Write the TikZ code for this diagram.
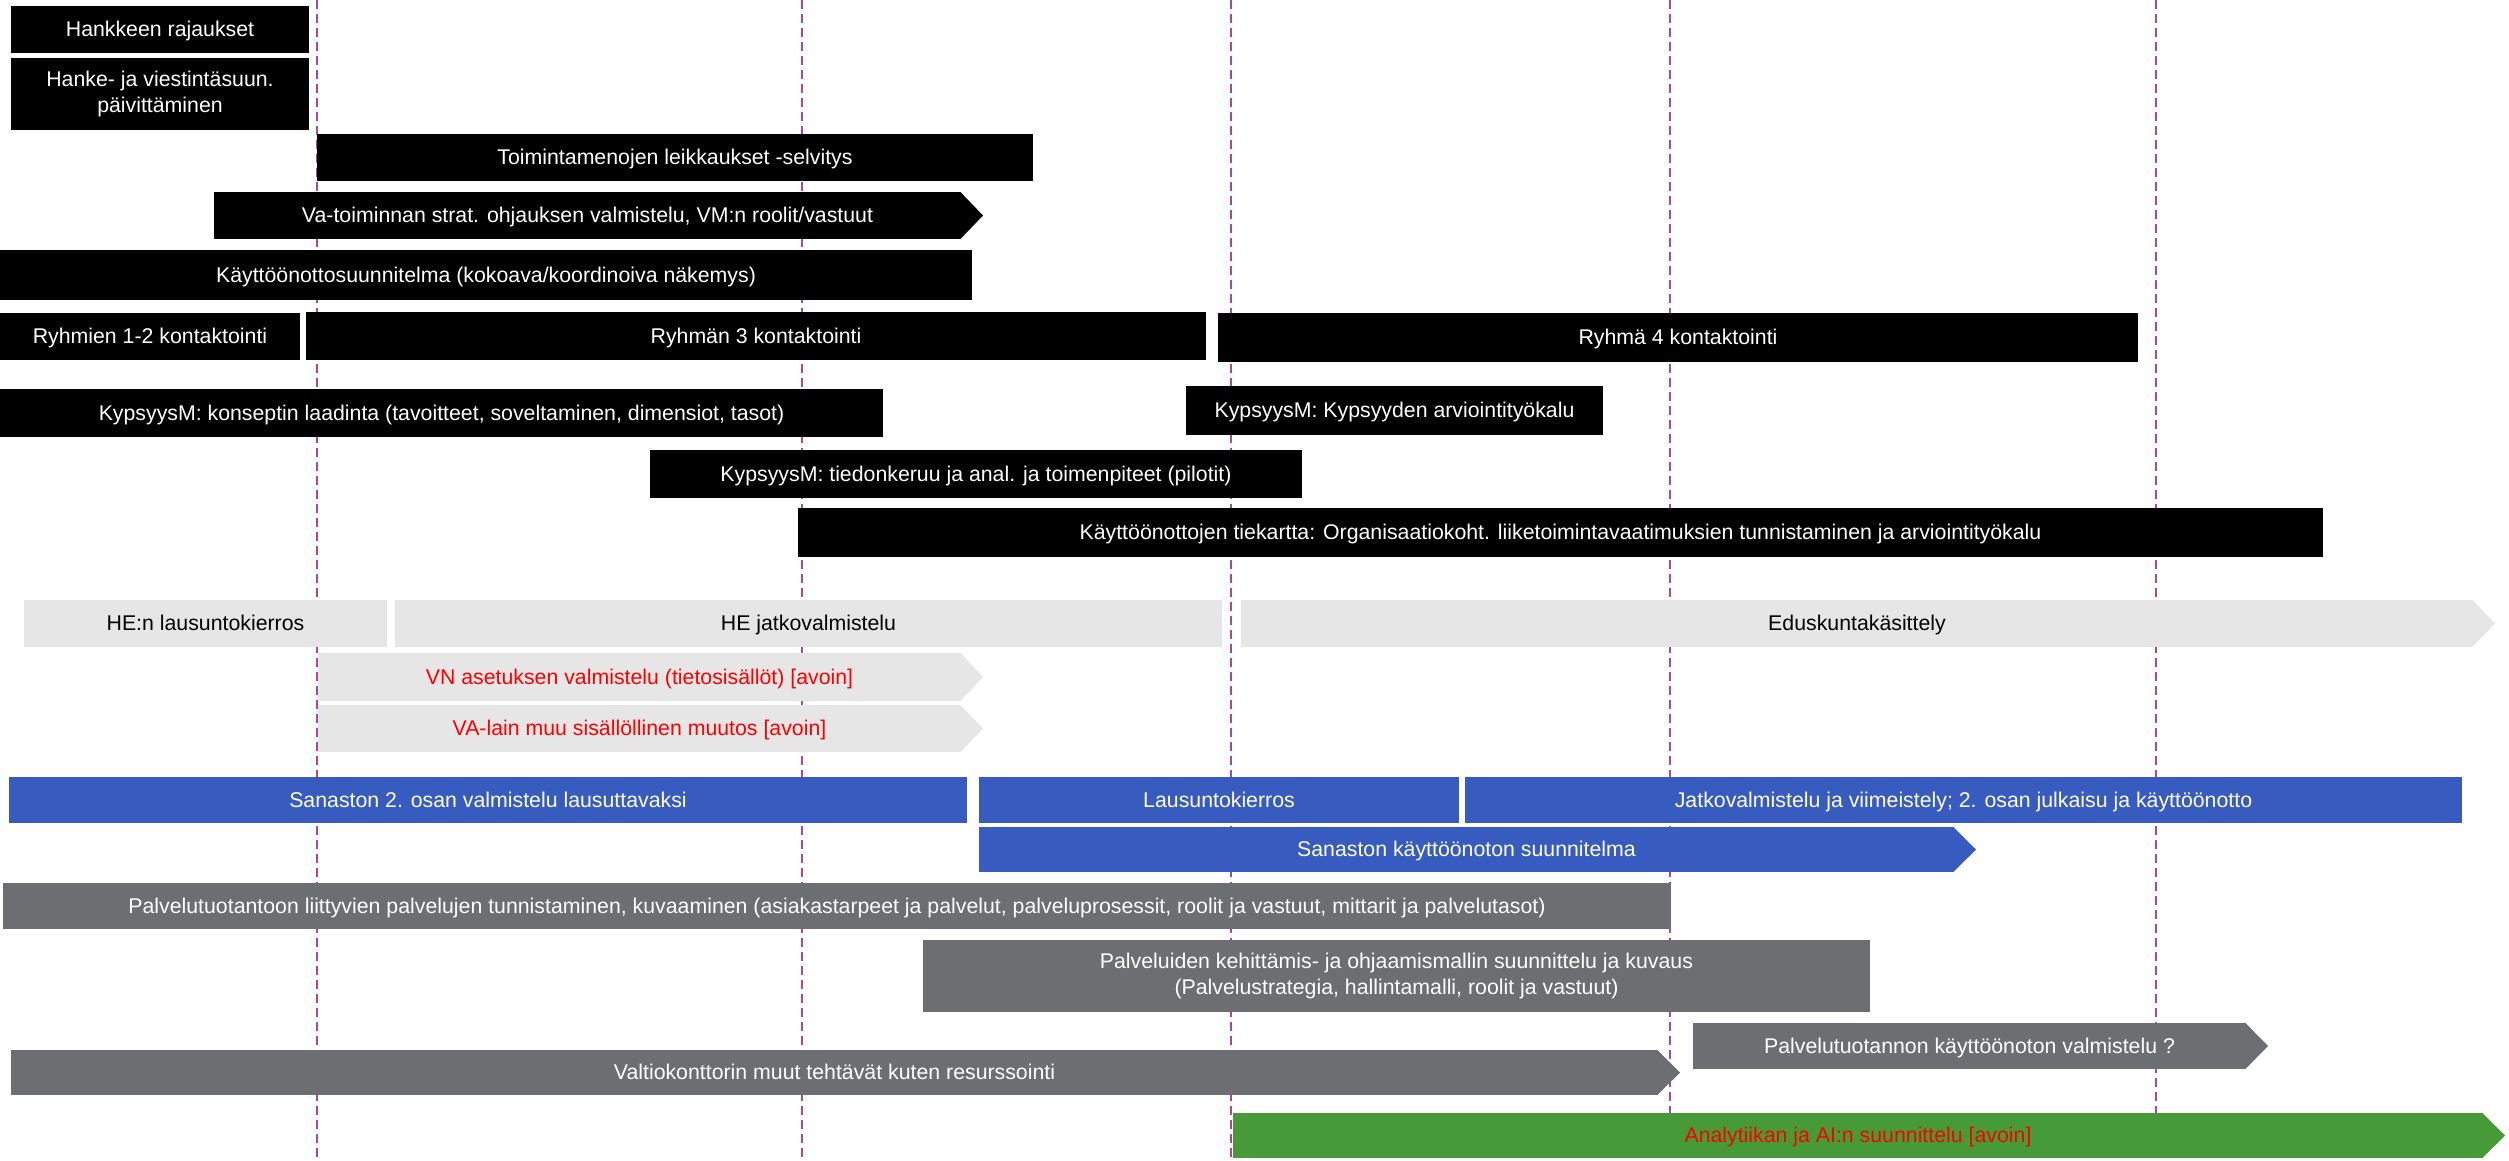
\documentclass[tikz,border=0pt]{standalone}
\usepackage{fontspec}
\setmainfont{Liberation Sans}
\usetikzlibrary{calc}
\definecolor{lgrey}{RGB}{230,230,230}
\definecolor{vkblue}{RGB}{56,91,191}
\definecolor{dgrey}{RGB}{109,110,113}
\definecolor{vkgreen}{RGB}{70,154,56}
\definecolor{guide}{RGB}{168,72,160}
\definecolor{avoin}{RGB}{255,0,0}
% #1 name, #2 x1, #3 y1, #4 x2, #5 y2, #6 style, #7 text
\newcommand\gbar[7]{%
  \pgfmathsetmacro\gbw{#4-#2}%
  \pgfmathsetmacro\gbh{#5-#3}%
  \node[#6, minimum width=\gbw pt, minimum height=\gbh pt] (#1) at ({(#2+#4)/2},{(#3+#5)/2}) {#7};}
% chevron tip: #1 node, #2 colour
\newcommand\gtip[2]{%
  \fill[#2] ($(#1.north east)+(-0.6,0)$) -- ($(#1.east)+(22,0)$) -- ($(#1.south east)+(-0.6,0)$) -- cycle;}
\begin{document}
\begin{tikzpicture}[x=1pt,y=-1pt,
  barbase/.style={inner sep=0pt,outer sep=0pt,align=center,font=\fontsize{21.3}{26.5}\selectfont},
  oneline/.style={text height=17.5pt,text depth=3pt},
  blk/.style={barbase,fill=black,text=white},
  lgr/.style={barbase,fill=lgrey,text=black},
  lgrred/.style={barbase,fill=lgrey,text=avoin},
  blu/.style={barbase,fill=vkblue,text=white},
  dgr/.style={barbase,fill=dgrey,text=white},
  grnred/.style={barbase,fill=vkgreen,text=avoin},
  guideline/.style={draw=guide,line width=1.6pt,dash pattern=on 9pt off 5pt}]
\fill[white] (0,0) rectangle (2509,1160);
\useasboundingbox (0,0) rectangle (2509,1160);
% guide lines
\foreach \gx in {317,802,1231,1670,2156}{\draw[guideline] (\gx,0) -- (\gx,1160);}
% black bars
\gbar{hr}{11}{6}{309}{53}{blk,oneline}{Hankkeen rajaukset}
\gbar{hv}{11}{58}{309}{130}{blk}{Hanke- ja viestintäsuun.\\päivittäminen}
\gbar{tl}{317}{134}{1033}{181}{blk,oneline}{Toimintamenojen leikkaukset -selvitys}
\gbar{va}{214}{192}{961}{239}{blk,oneline}{Va-toiminnan strat. ohjauksen valmistelu, VM:n roolit/vastuut}
\gtip{va}{black}
\gbar{ks}{0}{250}{972}{300}{blk,oneline}{Käyttöönottosuunnitelma (kokoava/koordinoiva näkemys)}
\gbar{r12}{0}{313}{300}{360}{blk,oneline}{Ryhmien 1-2 kontaktointi}
\gbar{r3}{306}{312}{1206}{360}{blk,oneline}{Ryhmän 3 kontaktointi}
\gbar{r4}{1218}{313}{2138}{362}{blk,oneline}{Ryhmä 4 kontaktointi}
\gbar{kk}{0}{389}{883}{437}{blk,oneline}{KypsyysM: konseptin laadinta (tavoitteet, soveltaminen, dimensiot, tasot)}
\gbar{ka}{1186}{386}{1603}{435}{blk,oneline}{KypsyysM: Kypsyyden arviointityökalu}
\gbar{kt}{650}{450}{1302}{498}{blk,oneline}{KypsyysM: tiedonkeruu ja anal. ja toimenpiteet (pilotit)}
\gbar{tk}{798}{508}{2323}{557}{blk,oneline}{Käyttöönottojen tiekartta: Organisaatiokoht. liiketoimintavaatimuksien tunnistaminen ja arviointityökalu}
% light grey bars
\gbar{hel}{24}{600}{387}{647}{lgr,oneline}{HE:n lausuntokierros}
\gbar{hej}{395}{600}{1222}{647}{lgr,oneline}{HE jatkovalmistelu}
\gbar{ed}{1241}{600}{2473}{647}{lgr,oneline}{Eduskuntakäsittely}
\gtip{ed}{lgrey}
\gbar{vn}{318}{653}{961}{701}{lgrred,oneline}{VN asetuksen valmistelu (tietosisällöt) [avoin]}
\gtip{vn}{lgrey}
\gbar{val}{318}{705}{961}{752}{lgrred,oneline}{VA-lain muu sisällöllinen muutos [avoin]}
\gtip{val}{lgrey}
% blue bars
\gbar{s2}{9}{777}{967}{823}{blu,oneline}{Sanaston 2. osan valmistelu lausuttavaksi}
\gbar{lk}{979}{777}{1459}{823}{blu,oneline}{Lausuntokierros}
\gbar{jv}{1465}{777}{2462}{823}{blu,oneline}{Jatkovalmistelu ja viimeistely; 2. osan julkaisu ja käyttöönotto}
\gbar{sk}{979}{827}{1954}{872}{blu,oneline}{Sanaston käyttöönoton suunnitelma}
\gtip{sk}{vkblue}
% dark grey bars
\gbar{pt}{3}{883}{1671}{929}{dgr,oneline}{Palvelutuotantoon liittyvien palvelujen tunnistaminen, kuvaaminen (asiakastarpeet ja palvelut, palveluprosessit, roolit ja vastuut, mittarit ja palvelutasot)}
\gbar{pk}{923}{940}{1870}{1012}{dgr}{Palveluiden kehittämis- ja ohjaamismallin suunnittelu ja kuvaus\\(Palvelustrategia, hallintamalli, roolit ja vastuut)}
\gbar{vt}{11}{1050}{1658}{1095}{dgr,oneline}{Valtiokonttorin muut tehtävät kuten resurssointi}
\gtip{vt}{dgrey}
\gbar{pv}{1693}{1023}{2246}{1069}{dgr,oneline}{Palvelutuotannon käyttöönoton valmistelu ?}
\gtip{pv}{dgrey}
% green bar
\gbar{an}{1233}{1113}{2483}{1158}{grnred,oneline}{Analytiikan ja AI:n suunnittelu [avoin]}
\gtip{an}{vkgreen}
\end{tikzpicture}
\end{document}
